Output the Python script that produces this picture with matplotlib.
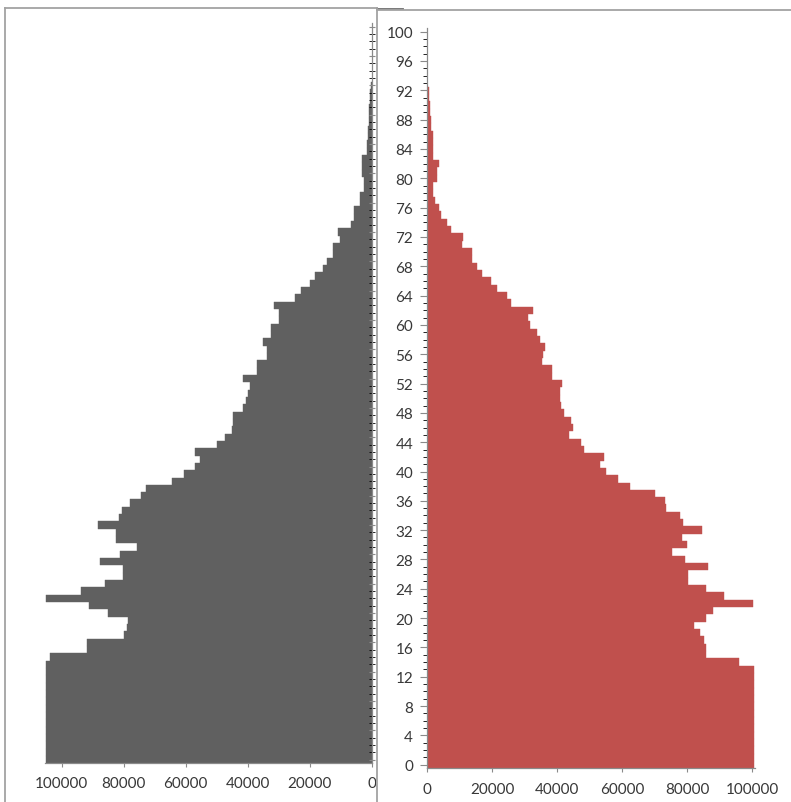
import matplotlib.pyplot as plt
from matplotlib.lines import Line2D
from matplotlib.patches import Rectangle
from matplotlib.ticker import MultipleLocator

# Age of every bar (one bar per year of age)
ages = list(range(0, 93))

# Left side (grey) population per age
grey_values = [
    105100, 105100, 105100, 105100, 105100, 105100, 105100, 105100, 105100, 105100,
    105100, 105100, 105100, 105100, 103800, 91900, 91900, 79800, 79000, 78700,
    85200, 91100, 105100, 93800, 86000, 80100, 80100, 87700, 81200, 75800,
    82600, 82600, 88200, 81500, 80400, 78000, 74400, 72800, 64500, 60400,
    57000, 55400, 57000, 49800, 47300, 45200, 44600, 44600, 41600, 40700,
    40000, 39300, 41400, 37100, 37100, 33900, 33900, 35200, 32600, 32600,
    30000, 30000, 31500, 24800, 22700, 19900, 18400, 15800, 14500, 12400,
    12400, 10200, 10800, 6700, 5600, 5600, 3800, 3800, 2500, 2500,
    3200, 3200, 3200, 1600, 1600, 1300, 1300, 1000, 800, 800,
    600, 500, 300,
]

# Right side (red) population per age
red_values = [
    100700, 100700, 100700, 100700, 100700, 100700, 100700, 100700, 100700, 100700,
    100700, 100700, 100700, 100700, 96000, 86000, 86000, 85200, 84000, 82200,
    86000, 88000, 100300, 91400, 85900, 80300, 80300, 86500, 79400, 75400,
    79900, 78500, 84700, 78700, 78000, 73500, 73200, 70200, 62500, 58700,
    55100, 53200, 54500, 48300, 47400, 43700, 44900, 44300, 42200, 41200,
    40900, 40900, 41400, 38400, 38400, 35300, 35700, 36300, 34800, 33700,
    31700, 31200, 32600, 26000, 24500, 21400, 19600, 16800, 15300, 13700,
    13700, 10700, 11200, 7400, 6100, 4200, 3700, 2500, 1900, 1900,
    3200, 3200, 3800, 1900, 1900, 1700, 1700, 1200, 1200, 900,
    900, 600, 600,
]

x_ticks = [0, 20000, 40000, 60000, 80000, 100000]
age_ticks = list(range(0, 101, 4))

W, H = 791, 803
AXIS_GREY = '#8a8a8a'
TEXT_GREY = '#383838'

plt.rcParams['font.family'] = ['Lato', 'DejaVu Sans']
plt.rcParams['font.size'] = 11


# pixel box -> figure fraction [left, bottom, width, height]
def px_box(x0, y0, x1, y1):
    return [x0 / W, 1 - y1 / H, (x1 - x0) / W, (y1 - y0) / H]


def style_axis(ax):
    for side in ['top', 'left', 'right', 'bottom']:
        ax.spines[side].set_color(AXIS_GREY)
        ax.spines[side].set_linewidth(0.9)
    ax.tick_params(colors=AXIS_GREY, labelcolor=TEXT_GREY)
    ax.set_ylim(-0.5, 100.5)


# Function to draw the grey half (mirrored x axis)
def plot_left(fig):
    ax = fig.add_axes(px_box(44.7, 24, 371.7, 764.4), zorder=0)
    ax.barh(ages, grey_values, height=1.0, color='#606060',
            edgecolor='#606060', linewidth=0.3)
    style_axis(ax)
    ax.set_xlim(105500, 0)
    ax.set_xticks(x_ticks)
    ax.set_xticklabels([str(v) for v in x_ticks])
    ax.spines['top'].set_visible(False)
    ax.spines['left'].set_visible(False)
    ax.yaxis.tick_right()
    ax.yaxis.set_major_locator(MultipleLocator(4))
    ax.yaxis.set_minor_locator(MultipleLocator(1))
    ax.tick_params(axis='y', which='both', direction='inout', length=4,
                   labelright=False)
    ax.tick_params(axis='x', direction='out', length=3, pad=6)
    return ax


# Function to draw the red half with the age labels
def plot_right(fig):
    ax = fig.add_axes(px_box(427, 29, 755.2, 769.4), zorder=1)
    ax.barh(ages, red_values, height=1.0, color='#c0504d',
            edgecolor='#c0504d', linewidth=0.3)
    style_axis(ax)
    ax.set_xlim(0, 101000)
    ax.set_xticks(x_ticks)
    ax.set_xticklabels([str(v) for v in x_ticks])
    ax.spines['top'].set_visible(False)
    ax.spines['right'].set_visible(False)
    ax.set_yticks(age_ticks)
    ax.yaxis.set_minor_locator(MultipleLocator(1))
    ax.tick_params(axis='y', which='major', direction='out', length=5, pad=5)
    ax.tick_params(axis='y', which='minor', direction='out', length=3)
    ax.tick_params(axis='x', direction='out', length=3, pad=7)
    return ax


# Function to draw the two chart frames round the panels
def draw_frames(fig):
    # the right chart sits on top of the left one and hides its edge
    fig.add_artist(Rectangle((376 / W, 0), 1 - 376 / W, 1,
                             transform=fig.transFigure, facecolor='white',
                             edgecolor='none', zorder=0.5))
    frame = '#a3a3a3'
    lines = [
        ([5, 5], [9, 803], frame),
        ([5, 377], [9, 9], frame),
        ([377, 403], [10, 10], '#6e6e6e'),
        ([377, 377], [9, 803], frame),
        ([377, 791], [11, 11], frame),
    ]
    for xs, ys, col in lines:
        fig.add_artist(Line2D([x / W for x in xs], [1 - y / H for y in ys],
                              transform=fig.transFigure, color=col,
                              linewidth=1.3, zorder=3))


if __name__ == "__main__":
    fig = plt.figure(figsize=(W / 100, H / 100), dpi=100)
    plot_left(fig)
    plot_right(fig)
    draw_frames(fig)
    fig.savefig('out.png', dpi=100)
